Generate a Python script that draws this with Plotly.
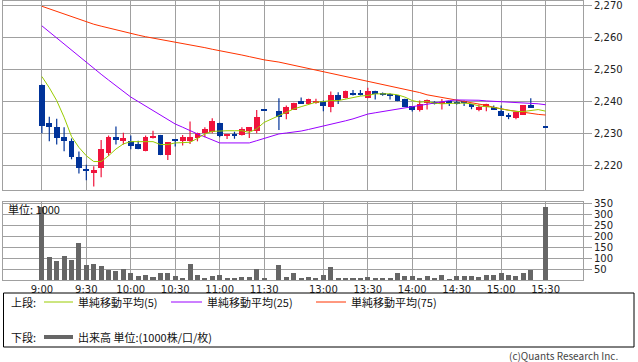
import plotly.graph_objects as go

# ---- data -------------------------------------------------------------
morning = [f"{h}:{m:02d}" for h in (9, 10, 11) for m in range(0, 60, 5)][:31]   # 9:00..11:30
afternoon = [f"{h}:{m:02d}" for h in (12, 13, 14, 15) for m in range(0, 60, 5)][6:43]  # 12:30..15:30
times = morning + ["昼休"] + afternoon

open_ = [2245.3, 2233.4, 2232.2, 2228.9, 2227.8, 2222.8, 2218.7, 2217.8, 2219.2, 2224.1,
         2228.9, 2227.6, 2227.8, 2226.9, 2224.5, 2228.5, 2229.6, 2223.3, 2227.9, 2227.6,
         2227.6, 2228.5, 2230.1, 2230.6, 2233.4, 2229.2, 2229.7, 2229.6, 2230.9, 2230.9,
         2237.2, None, 2237.2, 2236.1, 2237.5, 2240.3, 2239.2, 2239.6, 2240.3, 2238.2,
         2241.9, 2241.0, 2242.7, 2242.7, 2241.0, 2243.4, 2242.3, 2242.3, 2241.9, 2240.9,
         2238.5, 2237.5, 2239.6, 2239.8, 2239.3, 2239.7, 2239.8, 2239.8, 2239.1, 2237.5,
         2238.2, 2238.2, 2237.2, 2235.9, 2234.9, 2235.9, 2238.8, None, 2231.8]
high = [2245.3, 2235.3, 2234.6, 2232.0, 2228.5, 2224.4, 2220.3, 2219.8, 2228.0, 2229.4,
        2232.2, 2230.3, 2229.4, 2227.8, 2229.4, 2230.9, 2229.6, 2227.3, 2228.0, 2229.6,
        2233.8, 2230.3, 2232.0, 2234.8, 2233.4, 2229.9, 2230.6, 2232.0, 2232.0, 2237.4,
        2237.2, None, 2241.0, 2238.8, 2239.6, 2241.3, 2240.9, 2240.9, 2240.3, 2243.1,
        2242.9, 2243.4, 2243.6, 2243.6, 2244.3, 2243.4, 2242.8, 2242.6, 2241.9, 2240.9,
        2238.5, 2240.3, 2240.6, 2240.1, 2240.8, 2239.7, 2240.5, 2240.3, 2239.1, 2239.1,
        2239.3, 2238.8, 2238.8, 2236.4, 2236.7, 2238.8, 2241.0, None, 2231.8]
low = [2230.1, 2227.6, 2226.6, 2224.5, 2222.0, 2217.6, 2215.5, 2213.5, 2216.4, 2223.1,
       2226.6, 2226.6, 2225.1, 2225.1, 2224.5, 2228.5, 2223.3, 2221.8, 2226.0, 2226.3,
       2226.8, 2227.6, 2228.9, 2230.1, 2228.9, 2228.3, 2228.4, 2229.4, 2228.6, 2230.1,
       2237.2, None, 2231.1, 2234.5, 2237.5, 2239.2, 2239.0, 2239.3, 2237.0, 2236.7,
       2239.2, 2241.0, 2241.9, 2241.9, 2241.0, 2240.6, 2241.8, 2240.6, 2240.1, 2238.4,
       2236.9, 2236.9, 2237.5, 2239.1, 2237.5, 2238.6, 2239.1, 2238.6, 2237.6, 2237.0,
       2237.0, 2237.5, 2235.6, 2234.5, 2234.5, 2235.9, 2238.2, None, 2231.8]
close = [2232.5, 2232.0, 2228.5, 2227.6, 2222.6, 2219.2, 2218.5, 2218.8, 2225.3, 2228.9,
         2228.3, 2228.5, 2226.0, 2225.1, 2228.9, 2229.4, 2223.3, 2227.3, 2227.8, 2228.9,
         2228.9, 2230.3, 2231.4, 2233.8, 2229.2, 2229.9, 2229.5, 2231.3, 2232.0, 2235.3,
         2237.2, None, 2235.1, 2238.4, 2239.6, 2239.2, 2240.9, 2240.3, 2238.5, 2241.9,
         2240.6, 2243.4, 2241.9, 2241.9, 2243.4, 2242.2, 2242.1, 2242.0, 2240.1, 2238.4,
         2237.5, 2239.3, 2240.5, 2239.1, 2240.0, 2239.6, 2239.1, 2239.7, 2238.2, 2238.4,
         2239.3, 2237.5, 2235.6, 2235.1, 2236.7, 2238.8, 2238.2, None, 2231.8]

sma5 = [2247.8, 2244.3, 2240.3, 2235.1, 2229.1, 2225.7, 2223.1, 2221.3, 2221.3, 2223.1,
        2225.2, 2226.8, 2227.5, 2227.5, 2227.5, 2227.5, 2226.6, 2226.6, 2227.1, 2227.1,
        2227.3, 2228.5, 2229.9, 2230.7, 2230.9, 2230.9, 2230.9, 2230.9, 2230.4, 2231.5,
        2233.5, None, 2235.6, 2236.7, 2237.7, 2238.4, 2239.0, 2239.8, 2240.0, 2240.3,
        2240.3, 2240.8, 2241.4, 2241.7, 2241.9, 2242.4, 2242.4, 2242.4, 2242.1, 2241.4,
        2240.3, 2239.8, 2240.0, 2239.5, 2239.3, 2239.5, 2239.5, 2239.5, 2239.3, 2238.6,
        2238.4, 2238.2, 2237.7, 2237.2, 2236.9, 2236.9, 2237.2, 2237.5, 2237.0]
sma25 = [2263.6, 2261.7, 2259.7, 2257.8, 2255.9, 2253.9, 2252.0, 2250.2, 2248.5, 2246.7,
         2244.9, 2243.2, 2241.4, 2240.0, 2238.6, 2237.2, 2235.8, 2234.4, 2233.0, 2232.0,
         2230.9, 2229.9, 2229.0, 2228.0, 2227.1, 2227.1, 2227.1, 2227.1, 2227.1, 2227.8,
         2228.5, None, 2229.9, 2230.2, 2230.4, 2230.8, 2231.3, 2231.8, 2232.3, 2232.8,
         2233.3, 2234.0, 2234.6, 2235.4, 2236.1, 2236.5, 2236.9, 2237.3, 2237.7, 2238.1,
         2238.5, 2238.9, 2239.3, 2239.7, 2240.0, 2240.3, 2240.5, 2240.5, 2240.5, 2240.4,
         2240.2, 2240.1, 2240.0, 2239.8, 2239.6, 2239.5, 2239.4, 2239.3, 2239.0]
sma75 = [2269.7, 2268.9, 2268.0, 2267.2, 2266.4, 2265.6, 2264.8, 2264.1, 2263.5, 2262.9,
         2262.3, 2261.7, 2261.1, 2260.7, 2260.2, 2259.8, 2259.4, 2258.9, 2258.5, 2258.1,
         2257.6, 2257.2, 2256.8, 2256.3, 2255.9, 2255.4, 2254.9, 2254.5, 2254.0, 2253.5,
         2253.0, None, 2252.3, 2251.8, 2251.3, 2250.8, 2250.2, 2249.7, 2249.2, 2248.7,
         2248.3, 2247.8, 2247.3, 2246.8, 2246.3, 2245.8, 2245.2, 2244.7, 2244.3, 2243.8,
         2243.4, 2242.8, 2242.1, 2241.7, 2241.4, 2241.0, 2240.6, 2240.2, 2239.8, 2239.3,
         2238.8, 2238.2, 2237.7, 2237.3, 2237.0, 2236.6, 2236.3, 2236.0, 2235.8]

volume = [338, 104, 89, 111, 93, 170, 70, 75, 66, 46,
          43, 52, 30, 17, 25, 16, 30, 34, 20, 11,
          75, 23, 7, 20, 25, 11, 7, 16, 16, 52,
          7, None, 70, 16, 30, 11, 16, 7, 25, 58,
          11, 7, 11, 7, 16, 7, 7, 11, 30, 17,
          17, 11, 20, 7, 25, 2, 17, 17, 20, 13,
          25, 25, 30, 25, 20, 30, 46, None, 336]

tick_labels = ["9:00", "9:30", "10:00", "10:30", "11:00", "11:30",
               "13:00", "13:30", "14:00", "14:30", "15:00", "15:30"]
price_ticks = [2220, 2230, 2240, 2250, 2260, 2270]
vol_ticks = [50, 100, 150, 200, 250, 300, 350]

# ---- styling ----------------------------------------------------------
UP = "#f0143c"
DOWN = "#003399"
GRID = "#a0a0a0"
C5, C25, C75 = "#99cc00", "#9900ff", "#ff3300"
VOLC = "#666666"
TICKFONT = dict(family="DejaVu Sans", size=10, color="#222222")
JPFONT = "Noto Sans CJK JP"

W, H = 638, 362
L, R, T, B = 3, 55, 1, 82


def px(x):
    return (x - L) / (W - L - R)


def py(y):
    return (H - B - y) / (H - B - T)


xi = list(range(len(times)))
tickvals = [times.index(t) for t in tick_labels]

# candle parts
body_x = {UP: [], DOWN: []}
body_b = {UP: [], DOWN: []}
body_h = {UP: [], DOWN: []}
wick_x = {UP: [], DOWN: []}
wick_y = {UP: [], DOWN: []}
for i, (o, h, l, c) in enumerate(zip(open_, high, low, close)):
    if o is None:
        continue
    col = UP if c > o else DOWN
    body_x[col].append(i)
    body_b[col].append(min(o, c))
    body_h[col].append(max(abs(c - o), 0.32))
    wick_x[col] += [i, i, None]
    wick_y[col] += [l, h, None]

fig = go.Figure()
for col in (UP, DOWN):
    fig.add_trace(go.Scatter(x=wick_x[col], y=wick_y[col], mode="lines",
                             line=dict(color=col, width=1.2), xaxis="x", yaxis="y",
                             hoverinfo="skip", showlegend=False))
for col in (UP, DOWN):
    fig.add_trace(go.Bar(x=body_x[col], y=body_h[col], base=body_b[col], width=0.78,
                         marker=dict(color=col, line=dict(width=0)),
                         xaxis="x", yaxis="y", showlegend=False))

for vals, col in ((sma75, C75), (sma25, C25), (sma5, C5)):
    fig.add_trace(go.Scatter(x=xi, y=vals, mode="lines", connectgaps=True,
                             line=dict(color=col, width=1), xaxis="x", yaxis="y",
                             showlegend=False))

fig.add_trace(go.Bar(x=xi, y=volume, width=0.68, marker=dict(color=VOLC, line=dict(width=0)),
                     xaxis="x2", yaxis="y2", showlegend=False))

xrange = [-5.25, 73.05]
common_x = dict(range=xrange, tickvals=tickvals, ticktext=tick_labels, showgrid=True,
                gridcolor=GRID, gridwidth=1, showline=True, linecolor=GRID, linewidth=1,
                mirror=True, zeroline=False, ticks="", fixedrange=True, automargin=False)
fig.update_layout(
    width=W, height=H, margin=dict(l=L, r=R, t=T, b=B, autoexpand=False),
    paper_bgcolor="white", plot_bgcolor="white", bargap=0, barmode="overlay",
    xaxis=dict(common_x, anchor="y", showticklabels=False),
    xaxis2=dict(common_x, anchor="y2", showticklabels=True, tickfont=TICKFONT,
                ticklabeloverflow="allow"),
    yaxis=dict(domain=[py(190), 1], range=[2212.43, 2271.34], side="right",
               tickvals=price_ticks, tickformat=",d", tickfont=TICKFONT, automargin=False,
               ticklabeloverflow="allow",
               showgrid=True, gridcolor=GRID, showline=True, linecolor=GRID, mirror=True,
               ticks="outside", ticklen=8, tickcolor=GRID, zeroline=False),
    yaxis2=dict(domain=[0, py(202)], range=[0, 359], side="right", automargin=False,
                tickvals=vol_ticks, tickfont=TICKFONT, ticklabeloverflow="allow",
                showgrid=True, gridcolor=GRID, showline=True, linecolor=GRID, mirror=True,
                ticks="outside", ticklen=8, tickcolor=GRID, zeroline=False),
)

# legend box and texts
shapes = [dict(type="rect", xref="paper", yref="paper", x0=px(3.5), x1=px(634), y0=py(293),
               y1=py(347), line=dict(color="black", width=1))]
legend_lines = [(44, 73, 302, C5, 1), (171, 202, 302, C25, 1), (316, 346, 302, C75, 1),
                (44, 73, 337, VOLC, 4)]
for x0, x1, yy, col, w in legend_lines:
    shapes.append(dict(type="line", xref="paper", yref="paper", x0=px(x0), x1=px(x1),
                       y0=py(yy), y1=py(yy), line=dict(color=col, width=w)))
fig.update_layout(shapes=shapes)

texts = [(9, 302, "上段: "), (76, 302, "単純移動平均(5)"), (205, 302, "単純移動平均(25)"),
         (349, 302, "単純移動平均(75)"), (9, 337, "下段: "), (76, 337, "出来高 単位:(1000株/口/枚)"),
         (6, 209, "単位: 1000")]
for x, y, t in texts:
    fig.add_annotation(xref="paper", yref="paper", x=px(x), y=py(y), text=t, showarrow=False,
                       xanchor="left", yanchor="middle",
                       font=dict(family=JPFONT, size=11, color="#111111"))
fig.add_annotation(xref="paper", yref="paper", x=px(619), y=py(355), text="(c)Quants Research Inc.",
                   showarrow=False, xanchor="right", yanchor="middle", borderpad=0,
                   font=dict(family=JPFONT, size=10, color="#444444"))

fig.write_html("out.html", config={"displayModeBar": False},
               post_script="document.body.style.margin='0px';")
